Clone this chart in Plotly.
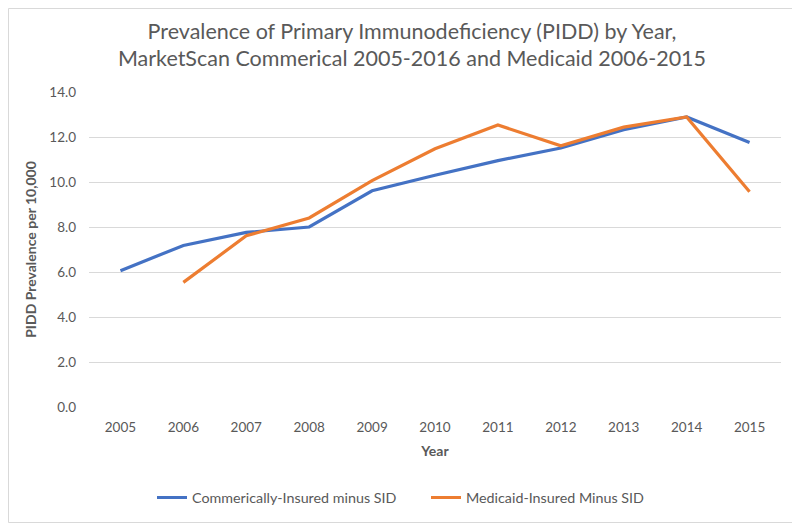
import plotly.graph_objects as go

years = [2005, 2006, 2007, 2008, 2009, 2010, 2011, 2012, 2013, 2014, 2015]
commercial = [6.06, 7.18, 7.76, 8.00, 9.61, 10.30, 10.95, 11.51, 12.32, 12.89, 11.76]
medicaid_years = [2006, 2007, 2008, 2009, 2010, 2011, 2012, 2013, 2014, 2015]
medicaid = [5.54, 7.61, 8.40, 10.06, 11.48, 12.53, 11.61, 12.44, 12.89, 9.57]
y_ticks = [0, 2, 4, 6, 8, 10, 12, 14]

# page body has an 8px margin, so the figure is 8px smaller and offset
OFF = 8
W, H = 800 - OFF, 523 - OFF
ML, MR, MT, MB = 89 - OFF, 19, 92 - OFF, 116
PW, PH = W - ML - MR, H - MT - MB

FONT = "Lato"
GREY = "#595959"

fig = go.Figure()
fig.add_trace(go.Scatter(x=years, y=commercial, mode="lines",
                         name="Commerically-Insured minus SID",
                         line=dict(color="#4472C4", width=3.2)))
fig.add_trace(go.Scatter(x=medicaid_years, y=medicaid, mode="lines",
                         name="Medicaid-Insured Minus SID",
                         line=dict(color="#ED7D31", width=3.2)))

fig.update_layout(
    width=W, height=H,
    margin=dict(l=ML, r=MR, t=MT, b=MB),
    paper_bgcolor="white", plot_bgcolor="white",
    font=dict(family=FONT, color=GREY, size=13),
    title=dict(text="Prevalence of Primary Immunodeficiency (PIDD) by Year,<br>MarketScan Commerical 2005-2016 and Medicaid 2006-2015",
               x=(412 - OFF) / W, xanchor="center", xref="container",
               y=1 - 30.5 / H, yanchor="middle", yref="container",
               font=dict(family=FONT, size=21.5, color=GREY)),
    xaxis=dict(range=[2004.5, 2015.5], tickmode="array", tickvals=years,
               ticktext=[str(y) for y in years], showgrid=False,
               zeroline=False, showline=False, ticks="",
               ticklabelstandoff=10,
               tickfont=dict(size=13.5, color=GREY),
               title=dict(text="<b>Year</b>", standoff=12,
                          font=dict(size=14, color=GREY))),
    yaxis=dict(range=[0, 14], tickvals=y_ticks,
               ticktext=[f"{v:.1f}" for v in y_ticks],
               showgrid=True, gridcolor="#D9D9D9", gridwidth=1,
               zeroline=False, showline=False, ticks="",
               ticklabelstandoff=12,
               tickfont=dict(size=13.5, color=GREY),
               title=dict(text="<b>PIDD Prevalence per 10,000</b>", standoff=9,
                          font=dict(size=14, color=GREY))),
    legend=dict(orientation="h", x=(426 - OFF) / W, xanchor="center", xref="container",
                y=1 - (497.7 - OFF) / H, yanchor="middle", yref="container",
                font=dict(size=14.3, color=GREY), itemwidth=30,
                entrywidth=229, entrywidthmode="pixels"),
    showlegend=True,
)

fig.add_shape(type="rect", xref="paper", yref="paper",
              x0=(-ML + 0.5) / PW, x1=1 + (MR - 0.5) / PW,
              y0=(-MB + 0.5) / PH, y1=1 + (MT - 0.5) / PH,
              line=dict(color="#D9D9D9", width=1), layer="below")

fig.write_html("out.html")
